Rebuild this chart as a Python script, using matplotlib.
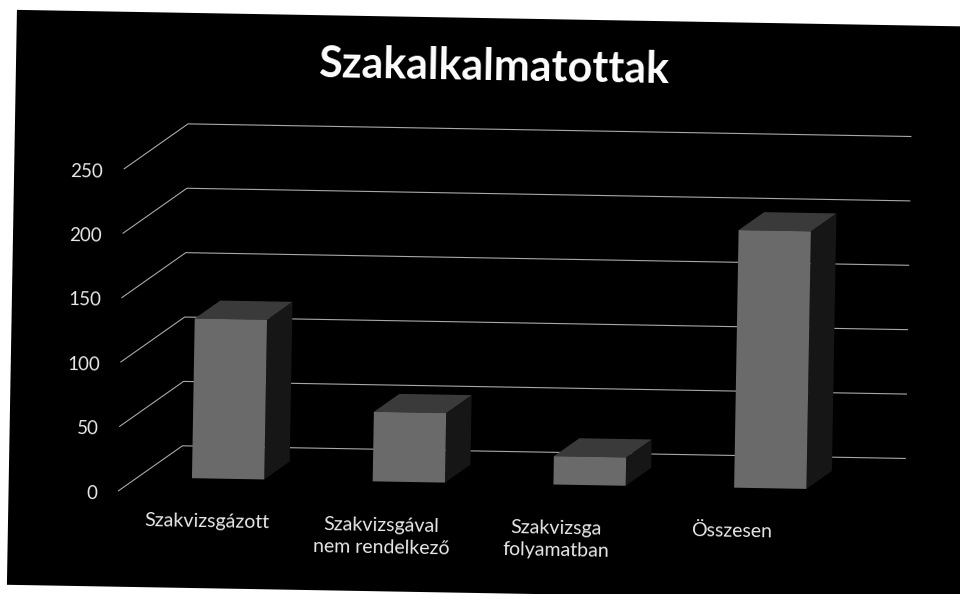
import matplotlib
matplotlib.use("Agg")
import matplotlib.pyplot as plt
from matplotlib.patches import Polygon, Rectangle
from matplotlib.transforms import Affine2D

# ---- data -------------------------------------------------------------
categories = ["Szakvizsgázott", "Szakvizsgával\nnem rendelkező",
              "Szakvizsga\nfolyamatban", "Összesen"]
values = [124, 54, 22, 200]
y_ticks = [0, 50, 100, 150, 200, 250]
title = "Szakalkalmatottak"

# ---- figure -----------------------------------------------------------
W, H, DPI = 960, 594, 100
fig = plt.figure(figsize=(W / DPI, H / DPI), dpi=DPI, facecolor="white")
ax = fig.add_axes([0, 0, 1, 1])
ax.set_axis_off()
ax.patch.set_visible(False)

# front-plane layout in pixels: first category centre and category pitch,
# position of value 0 and pixels per value unit
PX0, PX_STEP = 212.4, 180.75
PY0, PY_UNIT = 97.0, 1.288
ax.set_xlim(-PX0 / PX_STEP, (W - PX0) / PX_STEP)
ax.set_ylim(-PY0 / PY_UNIT, (H - PY0) / PY_UNIT)

# oblique depth vector from the front edge (d=0) to the back wall (d=1)
DX = 63 / PX_STEP
DV = 46 / PY_UNIT

# the whole slide sits slightly tilted on the page
tilt = Affine2D().rotate_deg_around(W / 2, H / 2, -1.0)
T = ax.transData + tilt
ANG = -1.0


def proj(x, v, d):
    return (x + DX * d, v + DV * d)


FONT = ["Lato", "DejaVu Sans"]

# black slide background
panel = Rectangle((12, 1), 1000, 575, transform=tilt, facecolor="black",
                  edgecolor="none", zorder=0, clip_on=False)
ax.add_patch(panel)

# gridlines on the side wall and back wall
x_left, x_right = -0.5, len(categories) - 0.5
for v in y_ticks:
    pts = [proj(x_left, v, 0), proj(x_left, v, 1), proj(x_right, v, 1)]
    xs, ys = zip(*pts)
    ax.plot(xs, ys, color="#a8a8a8", lw=0.8, transform=T, zorder=1,
            solid_joinstyle="round")

# 3-D columns
half_w = 0.2
d0, d1 = 0.3, 0.7
for i, h in enumerate(values):
    xl, xr = i - half_w, i + half_w
    side = [proj(xr, 0, d0), proj(xr, 0, d1), proj(xr, h, d1), proj(xr, h, d0)]
    top = [proj(xl, h, d0), proj(xr, h, d0), proj(xr, h, d1), proj(xl, h, d1)]
    front = [proj(xl, 0, d0), proj(xr, 0, d0), proj(xr, h, d0), proj(xl, h, d0)]
    ax.add_patch(Polygon(side, closed=True, facecolor="#161616",
                         edgecolor="none", transform=T, zorder=2))
    ax.add_patch(Polygon(top, closed=True, facecolor="#3a3a3a",
                         edgecolor="none", transform=T, zorder=2))
    ax.add_patch(Polygon(front, closed=True, facecolor="#6a6a6a",
                         edgecolor="none", transform=T, zorder=3))

# value axis labels
for v in y_ticks:
    ax.text(-0.616, v - 2.5, str(v), ha="right", va="center", transform=T,
            rotation=ANG, rotation_mode="anchor", color="#e8e8e8",
            fontsize=13.5, family=FONT, zorder=4)

# category labels
for i, lab in enumerate(categories):
    ax.text(i * 0.968 - 0.01, -16.5, lab, ha="center", va="top",
            multialignment="center", transform=T, rotation=ANG,
            rotation_mode="anchor", color="#e8e8e8", fontsize=14,
            family=FONT, linespacing=1.38, zorder=4)

# title
ax.text(490, H - 67, title, ha="center", va="center", transform=tilt,
        rotation=ANG, rotation_mode="anchor", color="white", fontsize=31,
        fontweight="bold", family=FONT, zorder=4)

fig.savefig("out.png", dpi=DPI, facecolor="white")
